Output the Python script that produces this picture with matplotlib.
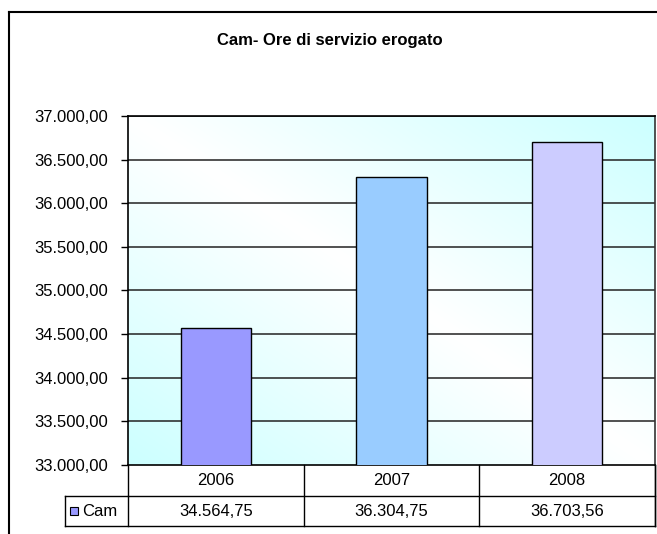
import numpy as np
import matplotlib
matplotlib.use("Agg")
import matplotlib.pyplot as plt
from matplotlib.lines import Line2D
from matplotlib.patches import Rectangle
import matplotlib.transforms as mtransforms

plt.rcParams['font.family'] = ['Liberation Sans', 'DejaVu Sans']

# ---- data ----
title = "Cam- Ore di servizio erogato"
years = ["2006", "2007", "2008"]
series_name = "Cam"
values = [34564.75, 36304.75, 36703.56]
bar_colors = ["#9999FF", "#99CCFF", "#CCCCFF"]
y_min, y_max, y_step = 33000, 37000, 500


def it_fmt(v):
    s = f"{v:,.2f}"
    return s.replace(",", "X").replace(".", ",").replace("X", ".")


W, H = 657, 534
fig = plt.figure(figsize=(W / 100, H / 100), dpi=100)
fig.patch.set_facecolor("white")

FS = 12

L, R, T, B = 128, 655, 116, 465
ax = fig.add_axes([L / W, 1 - B / H, (R - L) / W, (B - T) / H])

n = len(years)
x = np.arange(n)
ax.set_xlim(-0.5, n - 0.5)
ax.set_ylim(y_min, y_max)

# gradient background
gx, gy = np.meshgrid(np.linspace(0, 1, 300), np.linspace(0, 1, 300))
t = np.abs(gx - gy)  # row 0 = top with origin='upper'
cyan = np.array([0xCC, 0xFF, 0xFF]) / 255.0
white = np.array([1.0, 1.0, 1.0])
img = white[None, None, :] * (1 - t[..., None]) + cyan[None, None, :] * t[..., None]
ax.imshow(img, extent=[-0.5, n - 0.5, y_min, y_max], aspect="auto",
          origin="upper", zorder=0, interpolation="bilinear")

# gridlines
for v in np.arange(y_min + y_step, y_max + 1, y_step):
    ax.axhline(v, color="#222222", lw=1.1, zorder=1)

ax.bar(x, values, width=0.4, color=bar_colors, edgecolor="black",
       linewidth=1.0, zorder=3)

ticks = np.arange(y_min, y_max + 1, y_step)
ax.set_yticks(ticks)
ax.set_yticklabels([it_fmt(v) for v in ticks], fontsize=FS)
ax.tick_params(axis="y", direction="out", length=5, width=1, color="black", pad=9)
ax.set_xticks([])
for s in ["left", "top", "bottom"]:
    ax.spines[s].set_color("black")
    ax.spines[s].set_linewidth(1.2)
ax.spines["right"].set_color("#333333")
ax.spines["right"].set_linewidth(1.2)

# data table below the axes
trans = mtransforms.blended_transform_factory(ax.transData, ax.transAxes)
ph = B - T
hdr_bot = -(496 - B) / ph
row_bot = -(526 - B) / ph
leg_left_ax = (65 - L) / (R - L)
tA = ax.transAxes
lk = dict(color="black", lw=1.0, clip_on=False)

for b in np.arange(-0.5, n, 1.0):
    ax.add_line(Line2D([b, b], [0, row_bot], transform=trans, **lk))
ax.add_line(Line2D([0, 1], [hdr_bot, hdr_bot], transform=tA, **lk))
ax.add_line(Line2D([leg_left_ax, 0], [hdr_bot, hdr_bot], transform=tA, **lk))
ax.add_line(Line2D([leg_left_ax, 1], [row_bot, row_bot], transform=tA, **lk))
ax.add_line(Line2D([leg_left_ax, leg_left_ax], [hdr_bot, row_bot], transform=tA, **lk))
ax.add_line(Line2D([1, 1], [0, row_bot], transform=tA, **lk))

for i, (yr, v) in enumerate(zip(years, values)):
    ax.text(i, hdr_bot / 2, yr, transform=trans, ha="center", va="center",
            fontsize=FS)
    ax.text(i, (hdr_bot + row_bot) / 2, it_fmt(v), transform=trans,
            ha="center", va="center", fontsize=FS)

# legend key in table
key_w = 8 / (R - L)
key_h = 8 / ph
key_x = (70 - L) / (R - L)
mid = (hdr_bot + row_bot) / 2
ax.add_patch(Rectangle((key_x, mid - key_h / 2), key_w, key_h, transform=tA,
                       facecolor=bar_colors[0], edgecolor="black", lw=0.8,
                       clip_on=False))
ax.text((82 - L) / (R - L), mid, series_name, transform=tA, ha="left",
        va="center", fontsize=FS)

# title
fig.text(330 / W, 1 - 40 / H, title, ha="center", va="center",
         fontsize=12, fontweight="bold")

# outer frame (left and top edges visible)
fig.add_artist(Line2D([9 / W, 9 / W], [0, 1 - 12 / H], transform=fig.transFigure,
                      color="black", lw=1.5))
fig.add_artist(Line2D([9 / W, 1], [1 - 12 / H, 1 - 12 / H], transform=fig.transFigure,
                      color="black", lw=1.5))

fig.savefig("out.png", dpi=100)
